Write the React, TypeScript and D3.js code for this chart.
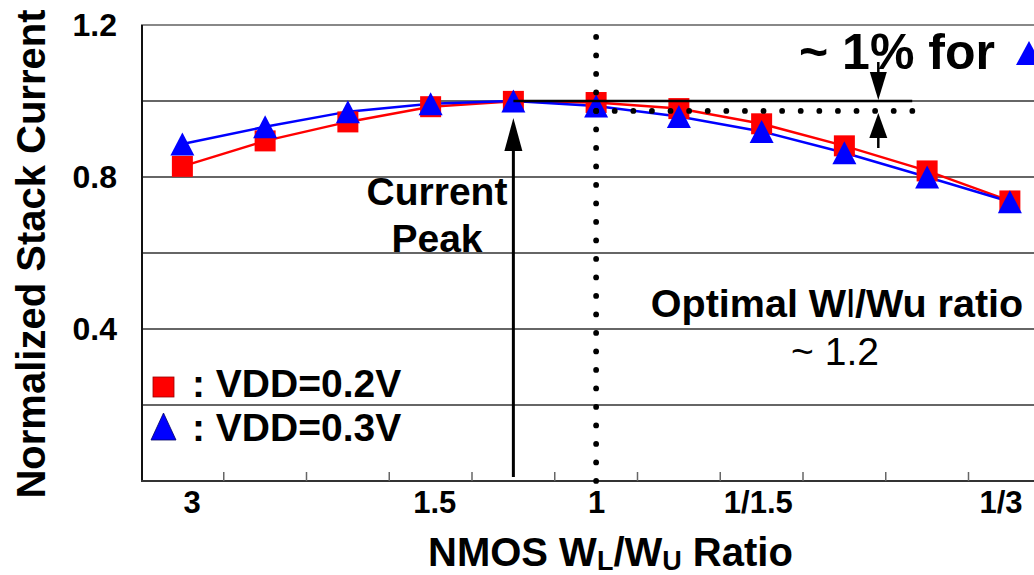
import React from "react";
import * as d3 from "d3";

const categories = ["3", "2.5", "2", "1.5", "1.2", "1", "1/1.2", "1/1.5", "1/2", "1/2.5", "1/3"];
const tickLabels = ["3", "", "", "1.5", "", "1", "", "1/1.5", "", "", "1/3"];
const vdd02 = [0.828, 0.895, 0.945, 0.985, 0.999, 0.996, 0.98, 0.94, 0.882, 0.816, 0.737];
const vdd03 = [0.887, 0.932, 0.972, 0.993, 1.0, 0.987, 0.959, 0.92, 0.864, 0.8, 0.735];
const yTickValues = [0.4, 0.8, 1.2];
const gridValues = [0.2, 0.4, 0.6, 0.8, 1.0];
const seriesNames = ["VDD=0.2V", "VDD=0.3V"];

const W = 1034;
const H = 575;
const FONT = "'Liberation Sans', Arial, Helvetica, sans-serif";

export default function App() {
  const x = d3.scaleBand<string>().domain(categories).range([141, 141 + 11 * 82.75]).padding(0);
  const step = x.bandwidth();
  const cx = (c: string) => (x(c) as number) + step / 2;
  const xf = (f: number) => 141 + (f + 0.5) * step; // fractional category position
  const labelX = d3.scalePoint<string>().domain(categories).range([192, 1001]);
  const y = d3.scaleLinear().domain([0, 1.2]).range([481, 25]);
  const left = 141;
  const right = W;

  const line = d3
    .line<number>()
    .x((_, i) => cx(categories[i]))
    .y((d) => y(d));

  const tri = (px: number, py: number, w: number, h: number) =>
    `${px - w / 2},${py + h / 2} ${px + w / 2},${py + h / 2} ${px},${py - h / 2}`;

  const optY = y(0.974);
  const optX = cx("1");
  const vDots = d3.range(-4, 21).map((k) => optY + k * 18.5);
  const hDots = d3.range(0, 18).map((k) => optX + k * 18.6);
  const arrowX = xf(8.41);

  return (
    <svg width={W} height={H} style={{ position: "absolute", left: 0, top: 0, background: "#fff" }} fontFamily={FONT}>
      {/* grid */}
      {gridValues.map((v) => (
        <line key={v} x1={left} x2={right} y1={y(v)} y2={y(v)} stroke="#333" strokeWidth={1.3} />
      ))}
      <line x1={left} x2={right} y1={y(1.2)} y2={y(1.2)} stroke="#888" strokeWidth={2} />
      {/* axes */}
      <line x1={left + 1} x2={left + 1} y1={y(1.2)} y2={y(0) + 1} stroke="#111" strokeWidth={2} />
      <line x1={left} x2={right} y1={y(0)} y2={y(0)} stroke="#333" strokeWidth={2} />
      {categories.slice(1).map((c) => (
        <line key={c} x1={x(c)} x2={x(c)} y1={y(0)} y2={y(0) - 9} stroke="#666" strokeWidth={1.5} />
      ))}
      {/* x tick labels */}
      {categories.map((c, i) =>
        tickLabels[i] ? (
          <text key={c} x={labelX(c)} y={513} textAnchor="middle" fontSize={31} fontWeight="bold" fill="#000">
            {tickLabels[i]}
          </text>
        ) : null
      )}
      {/* y tick labels */}
      {yTickValues.map((v) => (
        <text key={v} x={117} y={y(v) + 11} textAnchor="end" fontSize={32} fontWeight="bold" fill="#000">
          {v.toFixed(1)}
        </text>
      ))}
      {/* axis titles */}
      <text transform="translate(45,254) rotate(-90)" textAnchor="middle" fontSize={40} fontWeight="bold" fill="#000">
        Normalized Stack Current
      </text>
      <text x={428} y={566} fontSize={40} fontWeight="bold" fill="#000">
        NMOS W
        <tspan fontSize={27} dy={4}>L</tspan>
        <tspan dy={-4}>/W</tspan>
        <tspan fontSize={27} dy={4}>U</tspan>
        <tspan dy={-4}> Ratio</tspan>
      </text>

      {/* series lines */}
      <path d={line(vdd02) || ""} fill="none" stroke="#ff0000" strokeWidth={2.5} />
      <path d={line(vdd03) || ""} fill="none" stroke="#0000ff" strokeWidth={2.5} />
      {vdd02.map((v, i) => (
        <rect key={"s" + i} x={cx(categories[i]) - 10.5} y={y(v) - 10.5} width={21} height={21} fill="#ff0000" />
      ))}
      {vdd03.map((v, i) => (
        <polygon key={"t" + i} points={tri(cx(categories[i]), y(v), 24, 23)} fill="#0000ff" />
      ))}

      {/* annotations */}
      <line x1={cx("1.2")} x2={xf(8.82)} y1={y(1.0)} y2={y(1.0)} stroke="#000" strokeWidth={2.6} />
      {vDots.map((d, i) => (
        <circle key={"vd" + i} cx={optX} cy={d} r={2.9} fill="#000" />
      ))}
      {hDots.map((d, i) => (
        <circle key={"hd" + i} cx={d} cy={optY} r={2.9} fill="#000" />
      ))}
      {/* ~1% arrows */}
      <line x1={arrowX} x2={arrowX} y1={62} y2={80} stroke="#000" strokeWidth={2.5} />
      <polygon points={`${arrowX - 8.5},72 ${arrowX + 8.5},72 ${arrowX},${y(1.0) - 1}`} fill="#000" />
      <line x1={arrowX} x2={arrowX} y1={130} y2={148} stroke="#000" strokeWidth={2.5} />
      <polygon points={`${arrowX - 9},138 ${arrowX + 9},138 ${arrowX},${optY + 2}`} fill="#000" />
      <text x={799} y={69} fontSize={50} fontWeight="bold" fill="#000">
        ~ 1% for
      </text>
      <polygon points={tri(1029, 53, 26, 24)} fill="#0000ff" />

      {/* current peak arrow */}
      <line x1={cx("1.2")} x2={cx("1.2")} y1={477} y2={140} stroke="#000" strokeWidth={3} />
      <polygon points={`${cx("1.2") - 9},151 ${cx("1.2") + 9},151 ${cx("1.2")},118`} fill="#000" />
      <text x={437} y={205} textAnchor="middle" fontSize={39} fontWeight="bold" fill="#000">
        Current
      </text>
      <text x={437} y={252} textAnchor="middle" fontSize={39} fontWeight="bold" fill="#000">
        Peak
      </text>

      {/* optimal ratio text */}
      <text x={837} y={317} textAnchor="middle" fontSize={39.5} fontWeight="bold" fill="#000">
        Optimal W<tspan fontWeight="normal">l</tspan>/Wu ratio
      </text>
      <text x={835} y={365} textAnchor="middle" fontSize={39} fill="#000">
        ~ 1.2
      </text>

      {/* legend */}
      <rect x={153} y={377} width={21} height={20} fill="#ff0000" stroke="#990000" strokeWidth={0.8} />
      <text x={192} y={397} fontSize={39} fontWeight="bold" fill="#000">
        : {seriesNames[0]}
      </text>
      <polygon points={tri(163.5, 426.5, 25, 27)} fill="#0000ff" stroke="#000066" strokeWidth={0.8} />
      <text x={192} y={441} fontSize={39} fontWeight="bold" fill="#000">
        : {seriesNames[1]}
      </text>
    </svg>
  );
}
